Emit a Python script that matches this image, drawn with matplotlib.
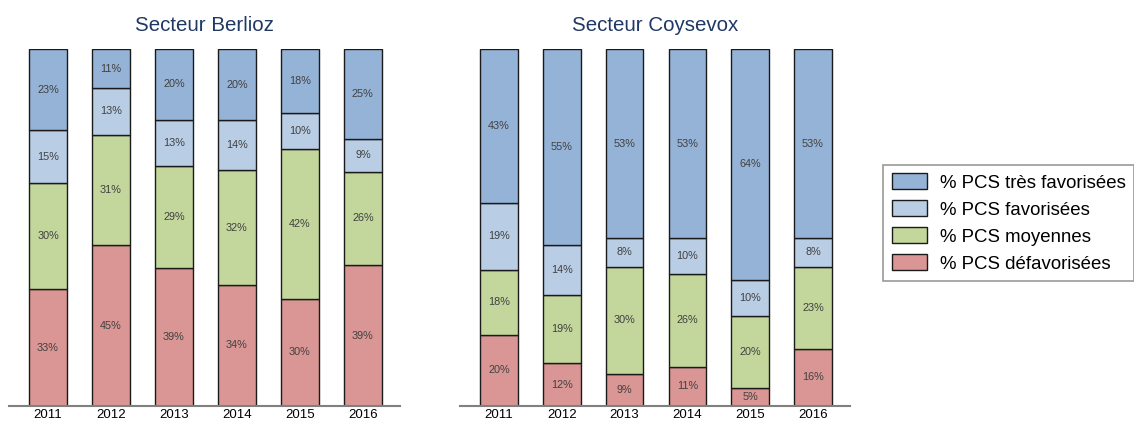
import numpy as np
import matplotlib
matplotlib.use('Agg')
import matplotlib.pyplot as plt
from matplotlib.patches import Patch

plt.rcParams['font.family'] = ['Liberation Sans', 'DejaVu Sans']

years = ['2011', '2012', '2013', '2014', '2015', '2016']
series = ['% PCS défavorisées', '% PCS moyennes', '% PCS favorisées', '% PCS très favorisées']
colors = ['#D99694', '#C3D69B', '#B9CDE5', '#95B3D7']

# secteur Berlioz
berlioz_defav = [33, 45, 39, 34, 30, 39]
berlioz_moy = [30, 31, 29, 32, 42, 26]
berlioz_fav = [15, 13, 13, 14, 10, 9]
berlioz_tres = [23, 11, 20, 20, 18, 25]

# secteur Coysevox
coysevox_defav = [20, 12, 9, 11, 5, 16]
coysevox_moy = [18, 19, 30, 26, 20, 23]
coysevox_fav = [19, 14, 8, 10, 10, 8]
coysevox_tres = [43, 55, 53, 53, 64, 53]

fig = plt.figure(figsize=(11.34, 4.21), dpi=100)
ax1 = fig.add_axes([0.0079, 0.0356, 0.3448, 0.848])
ax2 = fig.add_axes([0.4056, 0.0356, 0.3440, 0.848])


def stacked(ax, data, title):
    data = np.array(data, dtype=float)
    tot = data.sum(axis=0)
    x = np.arange(len(years))
    bottom = np.zeros(len(years))
    for vals, c in zip(data, colors):
        h = vals / tot
        ax.bar(x, h, 0.6, bottom=bottom, color=c, edgecolor='#1a1a1a', linewidth=1)
        for xi, b, hi, v in zip(x, bottom, h, vals):
            ax.text(xi, b + hi / 2, '%d%%' % v, ha='center', va='center',
                    fontsize=7.8, color='#404040')
        bottom += h
    ax.set_xlim(-0.62, 5.59)
    ax.set_ylim(0, 1)
    ax.set_xticks(x)
    ax.set_xticklabels(years, fontsize=9.5, color='black')
    ax.tick_params(axis='x', length=0, pad=2.5)
    ax.set_yticks([])
    for s in ['left', 'right', 'top']:
        ax.spines[s].set_visible(False)
    ax.spines['bottom'].set_color('#808080')
    ax.spines['bottom'].set_linewidth(1.5)
    ax.set_title(title, fontsize=14.8, color='#1F3864', pad=13)


stacked(ax1, [berlioz_defav, berlioz_moy, berlioz_fav, berlioz_tres], 'Secteur Berlioz')
stacked(ax2, [coysevox_defav, coysevox_moy, coysevox_fav, coysevox_tres], 'Secteur Coysevox')

handles = [Patch(facecolor=c, edgecolor='#1a1a1a', linewidth=1, label=s)
           for c, s in zip(colors[::-1], series[::-1])]
leg = fig.legend(handles=handles, loc='upper left', bbox_to_anchor=(0.779, 0.608),
                 borderaxespad=0, fontsize=13.4, frameon=True, fancybox=False,
                 edgecolor='#808080', handlelength=1.9, handleheight=0.95,
                 labelspacing=0.46, borderpad=0.45, handletextpad=0.7)
leg.get_frame().set_linewidth(1.2)

fig.savefig('out.png', dpi=100)
